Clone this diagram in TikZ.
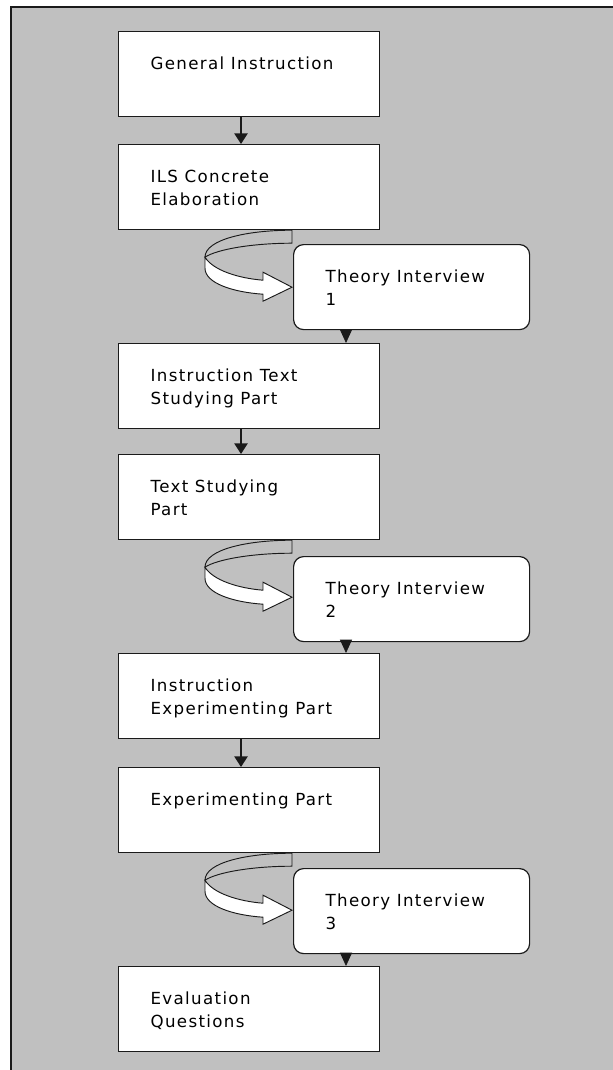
\documentclass[tikz,border=0pt]{standalone}
\usepackage{fontspec}
\setmainfont{DejaVu Sans}[LetterSpace=8]
\usetikzlibrary{arrows.meta,calc}
\definecolor{panel}{HTML}{C0C0C0}
\definecolor{ink}{HTML}{1A1A1A}
\newcommand{\boxtext}[2][195.75pt]{\parbox[c][63.75pt][t]{#1}{\raggedright\leftskip=24pt\rule{0pt}{28.5pt}#2}}
\tikzset{line width=.8pt,
  stepbox/.style={draw=ink,line width=.9pt,fill=white,inner sep=0pt,anchor=north west,
    font=\fontsize{12.5}{17}\selectfont},
  talkbox/.style={stepbox,rounded corners=7.5pt},
  flow/.style={draw=ink,line width=1.1pt,-{Triangle[width=10pt,length=8pt]}},
  drop/.style={draw=ink,line width=.6pt,-{Triangle[width=9pt,length=10pt]}},
  ribbonback/.style={draw=ink,line width=.7pt,fill=panel},
  ribbonfront/.style={draw=ink,line width=.7pt,fill=white}}

\begin{document}
\begin{tikzpicture}[x=.75pt,y=-.75pt]
\useasboundingbox (0,0) rectangle (613,1070);
\fill[white] (0,0) rectangle (613,1070);
\fill[panel] (11,7) rectangle (613,1070);
\draw[ink,line width=1.5pt] (11,1070) -- (11,7) -- (613,7);
% steps
\node[stepbox] (gen) at (118,31) {\boxtext{General Instruction}};
\node[stepbox] (ils) at (118,144) {\boxtext{ILS Concrete\\Elaboration}};
\node[talkbox] (talkA) at (293,244) {\boxtext[177pt]{Theory Interview\\1}};
\node[stepbox] (instext) at (118,343) {\boxtext{Instruction Text\\Studying Part}};
\node[stepbox] (textpart) at (118,454) {\boxtext{Text Studying\\Part}};
\node[talkbox] (talkB) at (293,556) {\boxtext[177pt]{Theory Interview\\2}};
\node[stepbox] (instexp) at (118,653) {\boxtext{Instruction\\Experimenting Part}};
\node[stepbox] (exppart) at (118,767) {\boxtext{Experimenting Part}};
\node[talkbox] (talkC) at (293,868) {\boxtext[177pt]{Theory Interview\\3}};
\node[stepbox] (evalq) at (118,966) {\boxtext{Evaluation\\Questions}};
% straight arrows
\foreach \a/\b in {gen/ils,instext/textpart,instexp/exppart}{
  \coordinate (s) at ($(\a.south west)+(123,0)$);
  \draw[flow] (s) -- (s |- \b.north);}
\foreach \t/\b in {talkA/instext,talkB/instexp,talkC/evalq}{
  \coordinate (d) at ($(\t.south west)+(53,0)$);
  \draw[drop] (d) -- (d |- \b.north);}
% curved arrows into the interviews
\foreach \a/\t in {ils/talkA,textpart/talkB,exppart/talkC}{
  \coordinate (o) at (\t.west |- \a.south);
  \begin{scope}[shift={(o)}]
    \draw[ribbonback] (-1,0) .. controls (-45,0) and (-88,9) .. (-88,27)
      .. controls (-76,19) and (-40,13) .. (-1,13) -- cycle;
    \draw[ribbonfront] (-88,27) .. controls (-80,40) and (-55,48) .. (-30,50)
      -- (-30,42) -- (-1,57) -- (-30,71) -- (-30,64)
      .. controls (-60,62) and (-88,53) .. (-88,38) -- cycle;
  \end{scope}}
\end{tikzpicture}
\end{document}
